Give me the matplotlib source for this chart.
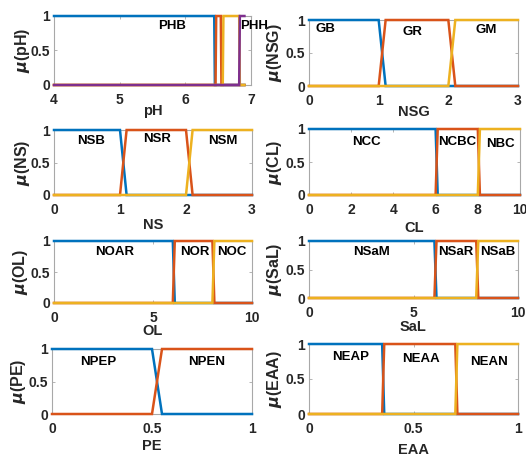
import matplotlib
matplotlib.use("Agg")
import matplotlib.pyplot as plt

plt.rcParams['font.family'] = ['Liberation Sans', 'DejaVu Sans']
plt.rcParams['font.weight'] = 'bold'

# ---------------- data (membership-function vertices) ----------------
ph_names = ["PHB", "PHH"]
ph_mf_x = [[4, 6.44, 6.45, 6.9],
           [4, 6.46, 6.47, 6.54, 6.55, 6.9],
           [4, 6.57, 6.58, 6.82, 6.83, 6.9],
           [4, 6.82, 6.83, 6.9]]
ph_mf_y = [[1, 1, 0, 0], [0, 0, 1, 1, 0, 0], [0, 0, 1, 1, 0, 0], [0, 0, 1, 1]]
ph_label_x = [5.8, 7.04]
ph_label_y = [0.86, 0.86]
ph_ticks = [4, 5, 6, 7]

nsg_names = ["GB", "GR", "GM"]
nsg_mf_x = [[0, 1, 1.1, 3], [0, 1, 1.1, 2, 2.1, 3], [0, 2, 2.1, 3]]
nsg_mf_y = [[1, 1, 0, 0], [0, 0, 1, 1, 0, 0], [0, 0, 1, 1]]
nsg_label_x = [0.24, 1.49, 2.54]
nsg_label_y = [0.86, 0.82, 0.85]
nsg_ticks = [0, 1, 2, 3]

ns_names = ["NSB", "NSR", "NSM"]
ns_mf_x = [[0, 1, 1.1, 3], [0, 1, 1.1, 2, 2.1, 3], [0, 2, 2.1, 3]]
ns_mf_y = [[1, 1, 0, 0], [0, 0, 1, 1, 0, 0], [0, 0, 1, 1]]
ns_label_x = [0.56, 1.56, 2.56]
ns_label_y = [0.83, 0.86, 0.83]
ns_ticks = [0, 1, 2, 3]

cl_names = ["NCC", "NCBC", "NBC"]
cl_mf_x = [[0, 6, 6.1, 10], [0, 6, 6.1, 8, 8.1, 10], [0, 8, 8.1, 10]]
cl_mf_y = [[1, 1, 0, 0], [0, 0, 1, 1, 0, 0], [0, 0, 1, 1]]
cl_label_x = [2.7, 7.0, 9.05]
cl_label_y = [0.80, 0.80, 0.77]
cl_ticks = [0, 2, 4, 6, 8, 10]

ol_names = ["NOAR", "NOR", "NOC"]
ol_mf_x = [[0, 6, 6.1, 10], [0, 6, 6.1, 8, 8.1, 10], [0, 8, 8.1, 10]]
ol_mf_y = [[1, 1, 0, 0], [0, 0, 1, 1, 0, 0], [0, 0, 1, 1]]
ol_label_x = [3.08, 7.1, 9.0]
ol_label_y = [0.82, 0.82, 0.82]
ol_ticks = [0, 5, 10]

sal_names = ["NSaM", "NSaR", "NSaB"]
sal_mf_x = [[0, 6, 6.1, 10], [0, 6, 6.1, 8, 8.1, 10], [0, 8, 8.1, 10]]
sal_mf_y = [[1, 1, 0, 0], [0, 0, 1, 1, 0, 0], [0, 0, 1, 1]]
sal_label_x = [2.97, 7.0, 9.05]
sal_label_y = [0.80, 0.80, 0.80]
sal_ticks = [0, 5, 10]

pe_names = ["NPEP", "NPEN"]
pe_mf_x = [[0, 0.5, 0.55, 1], [0, 0.5, 0.55, 1]]
pe_mf_y = [[1, 1, 0, 0], [0, 0, 1, 1]]
pe_label_x = [0.23, 0.775]
pe_label_y = [0.80, 0.80]
pe_ticks = [0, 0.5, 1]

eaa_names = ["NEAP", "NEAA", "NEAN"]
eaa_mf_x = [[0, 0.35, 0.36, 1], [0, 0.35, 0.36, 0.7, 0.71, 1], [0, 0.7, 0.71, 1]]
eaa_mf_y = [[1, 1, 0, 0], [0, 0, 1, 1, 0, 0], [0, 0, 1, 1]]
eaa_label_x = [0.2, 0.535, 0.86]
eaa_label_y = [0.81, 0.79, 0.74]
eaa_ticks = [0, 0.5, 1]

# ---------------- styling ----------------
W, H = 526, 457
colors = ['#0072BD', '#D95319', '#EDB120', '#7E2F8E']
box_color = '#a8a8a8'
tick_text = '#262626'

fig = plt.figure(figsize=(W / 100, H / 100), dpi=100)
fig.patch.set_facecolor('white')

panels = [
    # var, names, mfx, mfy, lx, ly, ticks, xlim, (left,right,top,bottom) px, ylabel_cx, xlabel_cy
    ("pH", ph_names, ph_mf_x, ph_mf_y, ph_label_x, ph_label_y, ph_ticks, (4, 7), (54, 251, 16, 85), 22, 111),
    ("NSG", nsg_names, nsg_mf_x, nsg_mf_y, nsg_label_x, nsg_label_y, nsg_ticks, (0, 3), (309, 518, 20, 86), 275, 112),
    ("NS", ns_names, ns_mf_x, ns_mf_y, ns_label_x, ns_label_y, ns_ticks, (0, 3), (54, 252, 130, 195), 22, 225),
    ("CL", cl_names, cl_mf_x, cl_mf_y, cl_label_x, cl_label_y, cl_ticks, (0, 10), (309, 520, 129, 195), 275, 228),
    ("OL", ol_names, ol_mf_x, ol_mf_y, ol_label_x, ol_label_y, ol_ticks, (0, 10), (54, 252, 241, 303), 21, 331),
    ("SaL", sal_names, sal_mf_x, sal_mf_y, sal_label_x, sal_label_y, sal_ticks, (0, 10), (309, 518, 241, 298), 275, 327),
    ("PE", pe_names, pe_mf_x, pe_mf_y, pe_label_x, pe_label_y, pe_ticks, (0, 1), (52, 252, 349, 414), 19, 446),
    ("EAA", eaa_names, eaa_mf_x, eaa_mf_y, eaa_label_x, eaa_label_y, eaa_ticks, (0, 1), (309, 518, 344, 414), 275, 450),
]

for (var, names, mfx, mfy, lx, ly, ticks, xlim, box, ylx, xly) in panels:
    l, r, t, b = box
    ax = fig.add_axes([l / W, 1 - b / H, (r - l) / W, (b - t) / H])
    for i, (xs, ys) in enumerate(zip(mfx, mfy)):
        ax.plot(xs, ys, color=colors[i], lw=1.8, clip_on=False, solid_joinstyle='miter', zorder=3 + i)
    for name, x, y in zip(names, lx, ly):
        ax.text(x, y, name, ha='center', va='center', fontsize=9.5, fontweight='bold', color='black', zorder=10)
    ax.set_xlim(*xlim)
    ax.set_ylim(0, 1)
    ax.set_xticks(ticks)
    ax.set_xticklabels([f"{v:g}" for v in ticks])
    ax.set_yticks([0, 0.5, 1])
    ax.set_yticklabels(['0', '0.5', '1'])
    ax.tick_params(direction='in', length=2.5, width=0.6, color=box_color,
                   top=True, right=True, labelsize=10, labelcolor=tick_text)
    ax.tick_params(axis='x', pad=6)
    ax.tick_params(axis='y', pad=3)
    for lab in ax.get_xticklabels() + ax.get_yticklabels():
        lab.set_fontweight('bold')
    for s in ax.spines.values():
        s.set_color(box_color)
        s.set_linewidth(0.8)
    # axis labels
    fig.text(ylx / W, 1 - ((t + b) / 2) / H, r'$\mu$(' + var + ')', rotation=90,
             ha='center', va='center', fontsize=11.5, fontweight='bold', color=tick_text)
    fig.text(((l + r) / 2) / W, 1 - xly / H, var, ha='center', va='center',
             fontsize=10.5, fontweight='bold', color=tick_text)

fig.savefig('out.png', dpi=100, facecolor='white')
